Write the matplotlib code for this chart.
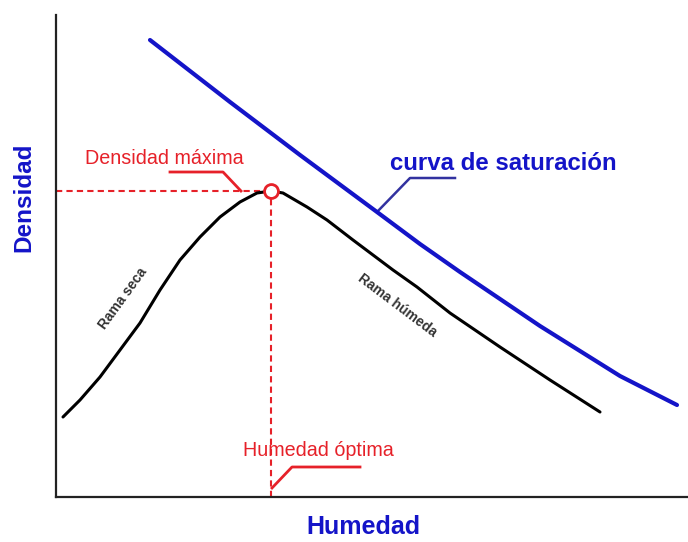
import matplotlib
matplotlib.use('Agg')
import matplotlib.pyplot as plt

# compaction curve (arbitrary units, humidity vs dry density)
hum_curve = [7, 24, 44, 64, 84, 104, 124, 144, 164, 184, 201, 215, 227, 251, 271, 297, 337, 361, 394, 444, 494, 544]
dens_curve = [80, 97, 120, 147, 174, 207, 237, 260, 280, 295, 304, 306, 304, 290, 277, 257, 227, 210, 184, 150, 117, 85]

# zero air voids / saturation curve
hum_sat = [94, 174, 244, 321, 364, 404, 444, 484, 524, 564, 621]
dens_sat = [457, 395, 342, 285, 253, 225, 198, 171, 146, 121, 92]

hum_opt = 215
dens_max = 306

RED = '#e62129'
BLUE = '#1414c8'

plt.rcParams['font.family'] = ['Liberation Sans', 'DejaVu Sans']

fig = plt.figure(figsize=(6.88, 5.42), dpi=100)
ax = fig.add_axes([56/688, 45/542, 632/688, 482/542])
ax.set_xlim(0, 632)
ax.set_ylim(0, 482)

ax.plot(hum_sat, dens_sat, color=BLUE, lw=3.0, solid_capstyle='round', zorder=3)
ax.plot(hum_curve, dens_curve, color='black', lw=2.2, solid_capstyle='round',
        solid_joinstyle='round', zorder=3)

# dashed guides to the peak
ax.plot([0, hum_opt], [dens_max, dens_max], color=RED, lw=1.5, ls=(0, (3, 2)), zorder=2)
ax.plot([hum_opt, hum_opt], [0, dens_max], color=RED, lw=1.5, ls=(0, (3, 2)), zorder=2)
ax.plot([hum_opt], [dens_max], 'o', ms=10, mfc='white', mec=RED, mew=2, zorder=4)

# leader lines
ax.plot([114, 167, 185], [325, 325, 306], color=RED, lw=2, zorder=2)
ax.plot([399, 354, 321], [319, 319, 285], color='#3232a0', lw=1.8, zorder=2)
ax.plot([304, 236, 216], [30, 30, 9], color=RED, lw=2, zorder=2)

ax.text(29, 333, 'Densidad máxima', color=RED, fontsize=14.2, ha='left', va='baseline')
ax.text(334, 327, 'curva de saturación', color=BLUE, fontsize=17.3, fontweight='bold',
        ha='left', va='baseline')
ax.text(187, 41, 'Humedad óptima', color=RED, fontsize=14.2, ha='left', va='baseline')
ax.text(67, 199, 'Rama seca', color='#333333', fontsize=10, fontweight='bold', rotation=54,
        ha='center', va='center', rotation_mode='anchor')
ax.text(341, 192, 'Rama húmeda', color='#333333', fontsize=10, fontweight='bold', rotation=-37,
        ha='center', va='center', rotation_mode='anchor')

ax.set_xlabel('Humedad', color=BLUE, fontsize=18, fontweight='bold')
ax.set_ylabel('Densidad', color=BLUE, fontsize=17.5, fontweight='bold')
ax.xaxis.set_label_coords(0.487, -0.037)
ax.yaxis.set_label_coords(-0.033, 0.622)

for side in ['top', 'right']:
    ax.spines[side].set_visible(False)
for side in ['left', 'bottom']:
    ax.spines[side].set_color('#222222')
    ax.spines[side].set_linewidth(1.6)
ax.set_xticks([])
ax.set_yticks([])

fig.savefig('out.png', dpi=100)
